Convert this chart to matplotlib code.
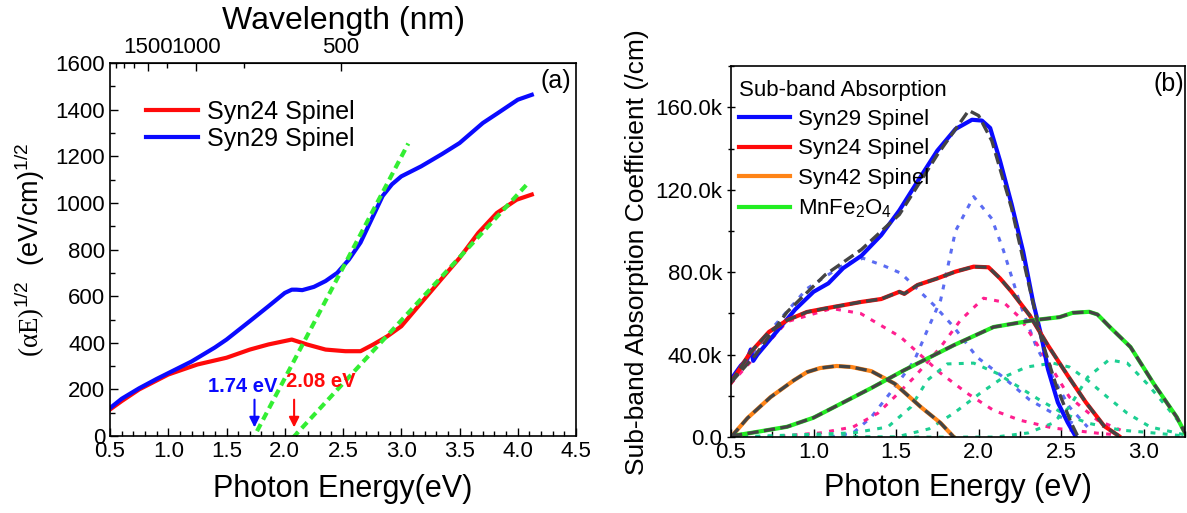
import numpy as np
import matplotlib
matplotlib.use("Agg")
import matplotlib.pyplot as plt
from matplotlib.ticker import MultipleLocator, FuncFormatter

plt.rcParams['font.family'] = ['Liberation Sans', 'DejaVu Sans']
plt.rcParams['mathtext.fontset'] = 'custom'
plt.rcParams['mathtext.rm'] = 'Liberation Serif'
plt.rcParams['mathtext.default'] = 'regular'

# ---- (a) Tauc plot data ----
E_29 = [0.5, 0.6, 0.75, 0.9, 1.0, 1.2, 1.4, 1.5, 1.7, 1.86, 2.0, 2.06, 2.1, 2.15, 2.25,
        2.35, 2.45, 2.55, 2.65, 2.75, 2.84, 2.92, 3.0, 3.17, 3.35, 3.5, 3.7, 3.83, 4.0, 4.12]
tauc_29 = [120, 160, 205, 245, 270, 320, 380, 414, 493, 557, 614, 628, 628, 626, 640,
           665, 700, 757, 830, 935, 1030, 1080, 1114, 1157, 1210, 1257, 1343, 1386, 1443, 1464]
E_24 = [0.5, 0.6, 0.75, 1.0, 1.25, 1.5, 1.7, 1.86, 2.06, 2.19, 2.35, 2.52, 2.65, 2.76,
        2.88, 3.0, 3.17, 3.34, 3.5, 3.66, 3.82, 3.99, 4.12]
tauc_24 = [114, 150, 200, 264, 307, 336, 371, 393, 414, 393, 371, 364, 364, 393,
           428, 471, 571, 671, 764, 871, 957, 1014, 1036]

# linear extrapolations to the band gaps
fit29_E = [1.71, 3.06]
fit29_y = [-28, 1255]
fit24_E = [2.07, 4.09]
fit24_y = [-7, 1086]
gap29 = 1.74
gap24 = 2.08

# ---- (b) sub-band absorption data (k /cm) ----
Eb_29 = [0.5, 0.56, 0.6, 0.62, 0.635, 0.66, 0.775, 0.89, 1.0, 1.09, 1.18, 1.29, 1.41, 1.52,
         1.63, 1.75, 1.86, 1.96, 2.02, 2.07, 2.13, 2.2, 2.27, 2.33, 2.38, 2.42, 2.48, 2.54, 2.59]
ab_29 = [28, 34.7, 38, 42.5, 37, 40, 51, 62, 70.5, 74.6, 82, 88, 98, 110,
         124, 139, 149.5, 154, 153.6, 150, 134, 113, 90, 65.6, 49, 33, 16.8, 7, 0]
Eb_29fit = [0.5, 0.65, 0.84, 1.07, 1.29, 1.52, 1.75, 1.94, 2.0, 2.08, 2.2, 2.31, 2.38, 2.47, 2.56, 2.6]
ab_29fit = [26.5, 40, 60.7, 78.7, 91, 108, 137, 158.5, 156, 143.8, 111, 72, 47.7, 25, 7, 0.5]

Eb_24 = [0.5, 0.617, 0.73, 0.84, 0.96, 1.07, 1.18, 1.29, 1.41, 1.52, 1.55, 1.63, 1.75, 1.86,
         1.97, 2.06, 2.13, 2.2, 2.31, 2.42, 2.54, 2.65, 2.76, 2.85]
ab_24 = [26.5, 41, 51, 56.7, 60.7, 62.4, 64, 65.6, 67, 70.5, 69.5, 73.8, 77, 80.3,
         82.7, 82.4, 77, 70.5, 59, 44.5, 29.8, 16.8, 5.4, 0.5]

Eb_42 = [0.5, 0.6, 0.74, 0.88, 0.96, 1.04, 1.14, 1.23, 1.35, 1.49, 1.65, 1.77, 1.85]
ab_42 = [0, 9.2, 19.4, 27.5, 31.5, 33.5, 34.5, 34, 32, 26, 14.6, 6.8, 0]

Eb_mn = [0.5, 0.62, 0.84, 1.0, 1.18, 1.35, 1.55, 1.85, 2.09, 2.33, 2.49, 2.57, 2.67, 2.72,
         2.8, 2.92, 3.06, 3.2, 3.25]
ab_mn = [0.5, 2, 5, 9.4, 16.8, 23.8, 32.5, 44.6, 53.4, 56.7, 58.2, 60.3, 60.8, 59.5,
         53, 43.7, 26, 9.7, 2]

# Gaussian-like sub-band components
c29a_E = [0.5, 0.73, 0.96, 1.18, 1.3, 1.43, 1.53, 1.73, 1.85, 1.99, 2.15, 2.31, 2.45, 2.57]
c29a_y = [26, 51, 72, 83.5, 86.8, 83, 79.5, 64, 53.4, 38.8, 29, 18, 11.6, 6.8]
c29b_E = [1.1, 1.24, 1.35, 1.49, 1.61, 1.69, 1.77, 1.86, 1.97, 2.08, 2.15, 2.25, 2.35, 2.45, 2.55, 2.66]
c29b_y = [0, 2, 9.7, 24, 37, 52, 66.5, 100, 116.7, 106, 90.7, 65, 43.7, 29, 14.6, 4.9]
c24a_E = [0.5, 0.84, 1.11, 1.285, 1.527, 1.77, 1.93, 2.09, 2.25, 2.45, 2.72, 2.85]
c24a_y = [26, 56, 62.4, 60, 48.6, 31, 21.3, 13, 8.2, 4.4, 1.9, 1]
c24b_E = [0.8, 1.04, 1.24, 1.39, 1.49, 1.61, 1.77, 1.89, 2.03, 2.15, 2.25, 2.35, 2.45, 2.55, 2.72, 2.86]
c24b_y = [0.5, 2, 4.9, 11.6, 19.4, 29, 43.7, 56.7, 67.4, 65.5, 58, 45.6, 32.5, 19.4, 8.2, 3.4]
cmn1_E = [0.5, 1.24, 1.45, 1.59, 1.69, 1.81, 1.97, 2.11, 2.25, 2.37, 2.51, 2.66, 2.86, 3.06, 3.25]
cmn1_y = [0, 2, 4.9, 14.6, 27.6, 35.5, 35.9, 31, 24, 18, 11.6, 6.8, 3.4, 2, 0.5]
cmn2_E = [0.5, 1.5, 1.7, 1.85, 2.01, 2.15, 2.29, 2.45, 2.55, 2.66, 2.78, 2.9, 3.04, 3.2, 3.25]
cmn2_y = [0, 0, 4, 11.6, 21.3, 29, 34, 35.9, 34, 27.6, 19.4, 11.6, 4.9, 2, 1]
cmn3_E = [0.5, 2.1, 2.3, 2.45, 2.55, 2.66, 2.79, 2.9, 3.02, 3.12, 3.22, 3.25]
cmn3_y = [0, 0, 2, 6.8, 14.6, 29, 37.5, 35.9, 26, 16.5, 6.8, 4]

BLUE = '#0a0aff'
RED = '#ff0a0a'
ORANGE = '#ff8417'
GREEN = '#22ee22'
FITGRAY = '#444444'

fig = plt.figure(figsize=(11.87, 5.13), dpi=100)
ax1 = fig.add_axes([0.0927, 0.150, 0.3926, 0.727])
ax2 = fig.add_axes([0.6158, 0.148, 0.3825, 0.723])

# ---------- panel (a) ----------
ax1.plot(E_24, tauc_24, color=RED, lw=3, label='Syn24 Spinel')
ax1.plot(E_29, tauc_29, color=BLUE, lw=3, label='Syn29 Spinel')
ax1.plot(fit29_E, fit29_y, color='#33ee33', lw=3, dashes=(1.9, 1.2))
ax1.plot(fit24_E, fit24_y, color='#33ee33', lw=3, dashes=(1.9, 1.2))

ax1.annotate('', xy=(gap29, 25), xytext=(gap29, 168),
             arrowprops=dict(arrowstyle='-|>', color=BLUE, lw=1.5, mutation_scale=15))
ax1.annotate('', xy=(gap24, 25), xytext=(gap24, 168),
             arrowprops=dict(arrowstyle='-|>', color=RED, lw=1.5, mutation_scale=15))
ax1.text(1.64, 214, f'{gap29:.2f} eV', color=BLUE, fontsize=14.5, fontweight='bold',
         ha='center', va='center')
ax1.text(2.31, 236, f'{gap24:.2f} eV', color=RED, fontsize=14.5, fontweight='bold',
         ha='center', va='center')

ax1.set_xlim(0.5, 4.5)
ax1.set_ylim(0, 1600)
ax1.xaxis.set_major_locator(MultipleLocator(0.5))
ax1.xaxis.set_minor_locator(MultipleLocator(0.1))
ax1.yaxis.set_major_locator(MultipleLocator(200))
ax1.yaxis.set_minor_locator(MultipleLocator(100))
ax1.xaxis.set_major_formatter(FuncFormatter(lambda v, p: f'{v:.1f}'))
ax1.tick_params(which='both', direction='in', labelsize=16, top=False, right=False)
ax1.tick_params(which='major', length=6, width=1)
ax1.tick_params(which='minor', length=3.5, width=1)
ax1.set_xlabel('Photon Energy(eV)', fontsize=22, labelpad=9)
ax1.set_ylabel(r'$\mathrm{(\alpha E)}^{1/2}$  (eV/cm)$^{1/2}$', fontsize=19.5, labelpad=6)
ax1.text(0.99, 0.985, '(a)', transform=ax1.transAxes, fontsize=18, ha='right', va='top')
ax1.legend(loc='upper left', bbox_to_anchor=(0.05, 0.935), frameon=False, fontsize=18,
           handlelength=2.1, handletextpad=0.35, labelspacing=0.12, borderpad=0)

top = ax1.secondary_xaxis('top', functions=(lambda e: 1240.0 / e, lambda w: 1240.0 / w))
top.set_xticks([1500, 1000, 500])
top.set_xticks([2250, 2000, 1750, 1250, 750], minor=True)
top.tick_params(which='both', direction='in', labelsize=16)
top.tick_params(which='major', length=6, width=1)
top.tick_params(which='minor', length=3.5, width=1)
top.set_xlabel('Wavelength (nm)', fontsize=23, labelpad=6)

# ---------- panel (b) ----------
dot = (1.6, 2.4)
ax2.plot(c29a_E, c29a_y, color='#5b6cf2', lw=2.2, dashes=dot)
ax2.plot(c29b_E, c29b_y, color='#5b6cf2', lw=2.2, dashes=dot)
ax2.plot(c24a_E, c24a_y, color='#ff1f8f', lw=2.2, dashes=dot)
ax2.plot(c24b_E, c24b_y, color='#ff1f8f', lw=2.2, dashes=dot)
for ce, cy in [(cmn1_E, cmn1_y), (cmn2_E, cmn2_y), (cmn3_E, cmn3_y)]:
    ax2.plot(ce, cy, color='#1ccf92', lw=2.2, dashes=dot)

ax2.plot(Eb_29, ab_29, color=BLUE, lw=3, label='Syn29 Spinel')
ax2.plot(Eb_24, ab_24, color=RED, lw=3, label='Syn24 Spinel')
ax2.plot(Eb_42, ab_42, color=ORANGE, lw=3, label='Syn42 Spinel')
ax2.plot(Eb_mn, ab_mn, color=GREEN, lw=3, label=r'MnFe$_2$O$_4$')

# summed fits
ax2.plot(Eb_29fit, ab_29fit, color=FITGRAY, lw=2.4, dashes=(3.4, 1.6))
ax2.plot(Eb_24, ab_24, color=FITGRAY, lw=2.4, dashes=(3.4, 1.6))
ax2.plot(Eb_42, ab_42, color=FITGRAY, lw=2.4, dashes=(3.4, 1.6))
ax2.plot(Eb_mn, ab_mn, color=FITGRAY, lw=2.4, dashes=(3.4, 1.6))

ax2.set_xlim(0.5, 3.25)
ax2.set_ylim(0, 180)
ax2.xaxis.set_major_locator(MultipleLocator(0.5))
ax2.xaxis.set_minor_locator(MultipleLocator(0.25))
ax2.yaxis.set_major_locator(MultipleLocator(40))
ax2.yaxis.set_minor_locator(MultipleLocator(20))
ax2.xaxis.set_major_formatter(FuncFormatter(lambda v, p: f'{v:.1f}'))
ax2.yaxis.set_major_formatter(FuncFormatter(lambda v, p: '0.0' if v == 0 else f'{v:.1f}k'))
ax2.tick_params(axis='x', which='both', direction='in', labelsize=16)
ax2.tick_params(axis='y', which='both', direction='inout', labelsize=16)
ax2.tick_params(which='major', length=6, width=1)
ax2.tick_params(which='minor', length=4, width=1)
ax2.set_xlabel('Photon Energy (eV)', fontsize=22, labelpad=7)
ax2.set_ylabel('Sub-band Absorption Coefficient (/cm)', fontsize=19, labelpad=4)
ax2.text(0.998, 0.985, '(b)', transform=ax2.transAxes, fontsize=18, ha='right', va='top')
leg = ax2.legend(loc='upper left', bbox_to_anchor=(-0.012, 1.0), frameon=False, fontsize=16,
                 title='Sub-band Absorption', title_fontsize=16, alignment='left',
                 handlelength=2.3, handletextpad=0.35, labelspacing=0.38, borderpad=0.1)

for ax in (ax1, ax2):
    for s in ax.spines.values():
        s.set_linewidth(1.2)

fig.savefig('out.png', dpi=100)
